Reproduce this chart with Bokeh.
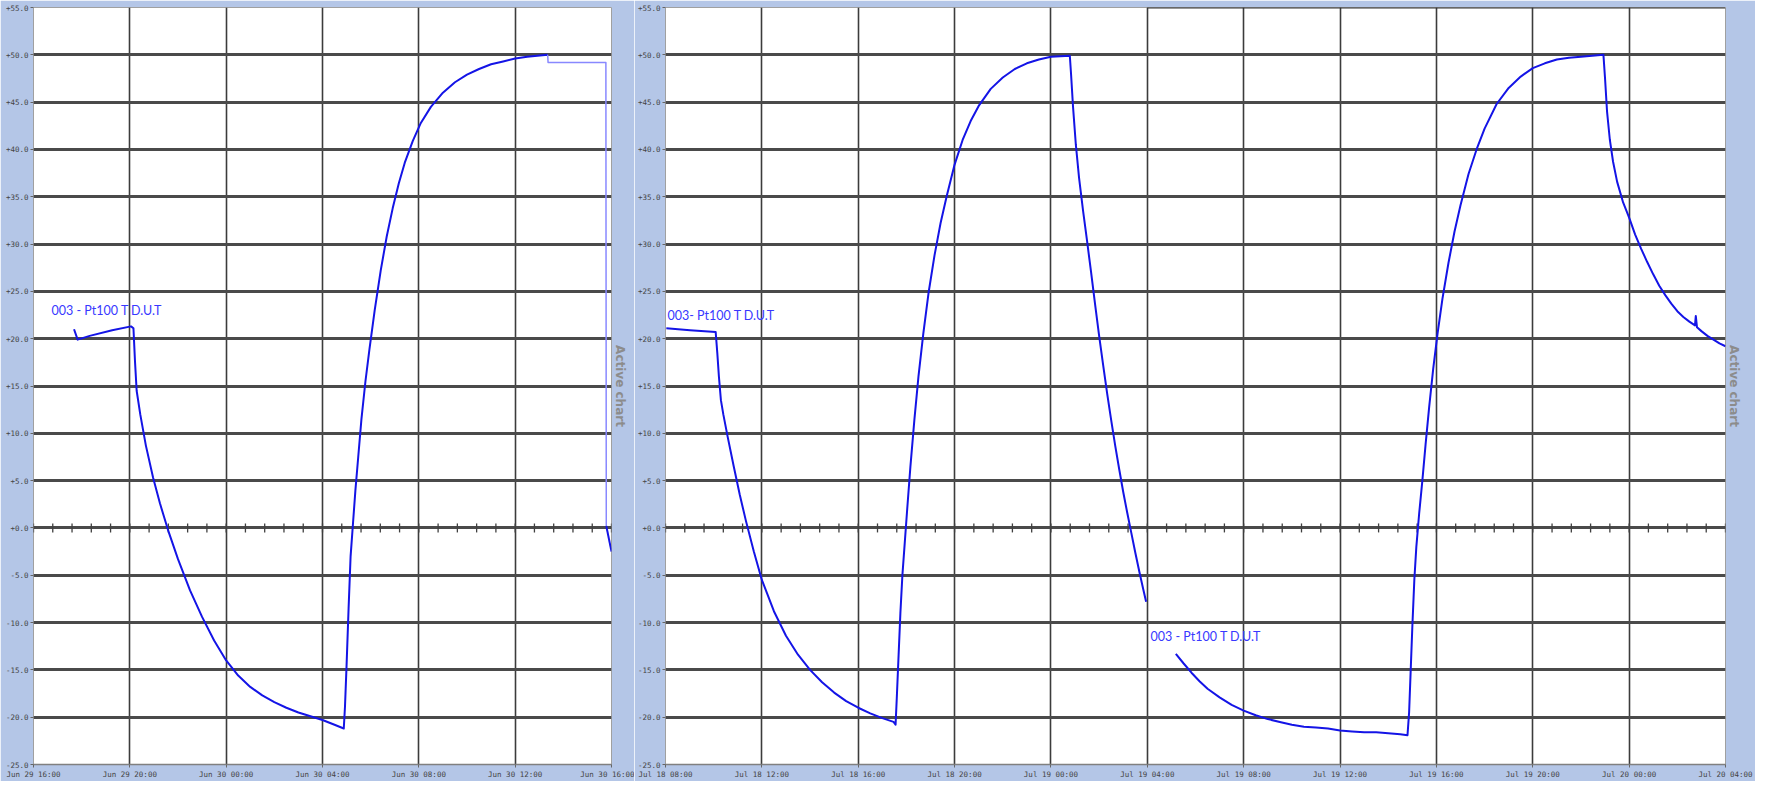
import numpy as np
import pandas as pd
from bokeh.plotting import figure
from bokeh.models import FixedTicker, DatetimeTickFormatter, Label, Title, Range1d
from bokeh.layouts import row
from bokeh.embed import file_html
from bokeh.resources import INLINE

# ---------------- data ----------------
series_name = "003 - Pt100 T D.U.T"
series_name_mid = "003- Pt100 T D.U.T"

# Chart 1 : Jun 29 16:00 -> Jun 30 16:00
run1a_hhmm = ["17:41", "17:50", "18:20", "19:16", "20:03", "20:09", "20:13", "20:17",
              "20:26", "20:40", "20:58", "21:15", "21:35", "22:00", "22:30", "23:00",
              "23:30"]                                        # Jun 29
run1a_temp = [21.0, 19.9, 20.3, 20.9, 21.3, 21.1, 17.5, 14.5,
              12.0, 8.7, 5.3, 2.6, -0.2, -3.3, -6.6, -9.4,
              -11.9]
run1b_hhmm = ["00:00", "00:30", "01:00", "01:30", "02:00", "02:30", "03:00", "03:30",
              "04:00", "04:30", "04:53", "04:56", "05:00", "05:05", "05:10", "05:16",
              "05:22", "05:29", "05:37", "05:47", "05:57", "06:10", "06:25", "06:40",
              "06:55", "07:10", "07:25", "07:45", "08:05", "08:30", "09:00", "09:30",
              "10:00", "10:30", "11:00", "11:30", "12:00", "12:30", "13:21"]   # Jun 30
run1b_temp = [-14.0, -15.6, -16.8, -17.7, -18.4, -19.0, -19.5, -19.9,
              -20.3, -20.8, -21.2, -18.9, -14.5, -8.5, -3.0, 0.5,
              4.0, 7.5, 11.5, 15.5, 18.9, 23.0, 27.2, 30.8,
              33.8, 36.4, 38.6, 40.9, 42.8, 44.5, 46.0, 47.1,
              47.9, 48.5, 49.0, 49.3, 49.6, 49.8, 50.0]
run1_gap_hhmm = ["13:21", "13:22", "15:46", "15:47"]         # Jun 30
run1_gap_temp = [50.0, 49.2, 49.2, 0.2]
run1_tail_hhmm = ["15:47", "16:00"]                          # Jun 30
run1_tail_temp = [0.2, -2.5]

# Chart 2 : first cycle, Jul 18 08:00 -> Jul 19 04:00
run2a_hhmm = ["08:02", "09:01", "10:05", "10:09", "10:13", "10:18", "10:24", "10:35",
              "10:50", "11:05", "11:20", "11:40", "12:00", "12:30", "13:00", "13:30",
              "14:00", "14:30", "15:00", "15:30", "16:00", "16:30", "17:00", "17:28",
              "17:33", "17:36", "17:40", "17:45", "17:50", "17:56", "18:02", "18:10",
              "18:20", "18:30", "18:42", "18:55", "19:10", "19:25", "19:40", "20:00",
              "20:20", "20:40", "21:00", "21:30", "22:00", "22:30", "23:00", "23:30"]  # Jul 18
run2a_temp = [21.1, 20.9, 20.7, 18.5, 16.0, 13.5, 12.0, 9.6,
              6.5, 3.5, 0.8, -2.5, -5.5, -8.8, -11.4, -13.4,
              -15.0, -16.3, -17.4, -18.3, -19.0, -19.6, -20.1, -20.5,
              -20.8, -18.0, -14.0, -9.0, -5.0, -1.5, 2.0, 6.5,
              11.5, 16.0, 20.5, 24.8, 28.8, 32.2, 35.0, 38.4,
              41.0, 43.0, 44.6, 46.4, 47.6, 48.5, 49.1, 49.5]
run2b_hhmm = ["00:00", "00:47", "00:50", "00:55", "01:02", "01:10", "01:20", "01:30",
              "01:40", "01:50", "02:00", "02:10", "02:20", "02:30", "02:40", "02:50",
              "03:00", "03:10", "03:20", "03:30", "03:40", "03:50", "03:57"]  # Jul 19
run2b_temp = [49.8, 49.9, 48.0, 44.5, 40.5, 37.0, 33.5, 30.3,
              27.0, 23.6, 20.3, 17.2, 14.2, 11.4, 8.7, 6.2,
              3.8, 1.6, -0.5, -2.6, -4.6, -6.5, -7.8]

# Chart 2 : second cycle, Jul 19 05:11 -> Jul 20 04:00
run3a_hhmm = ["05:11", "05:30", "05:50", "06:10", "06:30", "07:00", "07:30", "08:00",
              "08:30", "09:00", "09:30", "10:00", "10:30", "11:00", "11:30", "12:00",
              "12:30", "13:00", "13:30", "14:00", "14:30", "14:48", "14:52", "14:56",
              "15:00", "15:05", "15:10", "15:17", "15:25", "15:33", "15:42", "15:52",
              "16:03", "16:15", "16:30", "16:45", "17:00", "17:20", "17:40", "18:00",
              "18:30", "19:00", "19:30", "20:00", "20:30", "21:00", "21:30", "22:00",
              "22:56", "23:00", "23:05", "23:12", "23:20", "23:30", "23:45"]  # Jul 19
run3a_temp = [-13.3, -14.3, -15.3, -16.2, -17.0, -17.9, -18.7, -19.3,
              -19.8, -20.2, -20.5, -20.8, -21.0, -21.1, -21.2, -21.4,
              -21.5, -21.6, -21.6, -21.7, -21.8, -21.9, -19.5, -15.0,
              -10.5, -5.5, -2.0, 1.5, 5.0, 8.8, 12.8, 16.8,
              20.6, 24.2, 28.0, 31.3, 34.1, 37.4, 40.0, 42.2,
              44.8, 46.5, 47.7, 48.6, 49.1, 49.5, 49.7, 49.8,
              50.0, 47.5, 44.0, 41.0, 38.7, 36.6, 34.4]
run3b_hhmm = ["00:00", "00:15", "00:30", "00:45", "01:00", "01:15", "01:30", "01:45",
              "02:00", "02:15", "02:30", "02:44", "02:46", "02:49", "03:00", "03:15",
              "03:30", "03:45", "04:00"]                      # Jul 20
run3b_temp = [32.8, 31.0, 29.5, 28.1, 26.8, 25.6, 24.6, 23.7,
              22.9, 22.3, 21.8, 21.4, 22.4, 21.2, 20.8, 20.3,
              19.9, 19.5, 19.2]

y_ticks = list(range(-25, 56, 5))

# ---------------- style ----------------
STRIP = "#b4c6e7"
LINE = "#1414e6"
LIGHT = "#8888ff"
LABEL_C = "#3838ff"
H = 781
FMT = "%b %d %H:%M"


def ms(t):
    return pd.Timestamp(t).value / 1e6


def stamps(day, hhmm):
    return [ms(f"{day} {h}") for h in hhmm]


def make_fig(width, start, end, left, right):
    p = figure(width=width, height=H, x_axis_type="datetime",
               x_range=Range1d(ms(start), ms(end)), y_range=Range1d(-25, 55),
               output_backend="svg", toolbar_location=None,
               min_border_left=left, min_border_right=right,
               min_border_top=7, min_border_bottom=15)
    p.border_fill_color = STRIP
    p.background_fill_color = "white"
    p.outline_line_color = "#a0a0a0"
    p.outline_line_width = 1

    xt = [ms(t) for t in pd.date_range(start, end, freq="4h")]
    p.xaxis.ticker = FixedTicker(ticks=xt)
    p.xaxis.formatter = DatetimeTickFormatter(
        milliseconds=FMT, seconds=FMT, minsec=FMT, minutes=FMT, hourmin=FMT,
        hours=FMT, days=FMT, months=FMT, years=FMT)
    p.yaxis.ticker = FixedTicker(ticks=y_ticks)
    p.yaxis.major_label_overrides = {v: f"{v:+.1f}" for v in y_ticks}

    for ax in (p.xaxis[0], p.yaxis[0]):
        ax.major_label_text_font = "DejaVu Sans Mono"
        ax.major_label_text_font_size = "7.5px"
        ax.major_label_text_color = "#444444"
        ax.major_tick_in = 0
        ax.major_tick_out = 3
        ax.major_tick_line_color = "#666666"
        ax.minor_tick_line_color = None
        ax.major_label_standoff = 2
    p.yaxis.axis_line_color = None
    p.xaxis.axis_line_color = "#808080"
    p.xaxis.axis_line_width = 1.5

    p.ygrid.grid_line_color = "#4a4a4a"
    p.ygrid.grid_line_width = 2.8
    p.xgrid.grid_line_color = "#3c3c3c"
    p.xgrid.grid_line_width = 1.6

    # small ticks along the zero line
    zt = [ms(t) for t in pd.date_range(start, end, freq="48min")]
    p.scatter(x=zt, y=[0] * len(zt), marker="dash", angle=np.pi / 2, size=9,
              line_color="#404040", line_width=1.3)

    p.add_layout(Title(text="Active chart", align="center", text_font="DejaVu Sans",
                       text_font_size="12px", text_font_style="bold",
                       text_color="#8c8c8c", standoff=3), "right")
    return p


def curve(p, xs, temps, color=LINE, width=2):
    p.line(x=xs, y=temps, line_color=color, line_width=width, line_join="round")


def add_label(p, t, y, text):
    p.add_layout(Label(x=ms(t), y=y, text=text, text_font="Lato",
                       text_font_size="12.5px", text_color=LABEL_C, text_baseline="middle"))


p1 = make_fig(634, "2021-06-29 16:00", "2021-06-30 16:00", 33, 23)
curve(p1, stamps("2021-06-29", run1a_hhmm) + stamps("2021-06-30", run1b_hhmm),
      run1a_temp + run1b_temp)
curve(p1, stamps("2021-06-30", run1_gap_hhmm), run1_gap_temp, color=LIGHT, width=1.5)
curve(p1, stamps("2021-06-30", run1_tail_hhmm), run1_tail_temp)
add_label(p1, "2021-06-29 16:45", 23.0, series_name)

p2 = make_fig(1121, "2021-07-18 08:00", "2021-07-20 04:00", 30, 30)
curve(p2, stamps("2021-07-18", run2a_hhmm) + stamps("2021-07-19", run2b_hhmm),
      run2a_temp + run2b_temp)
curve(p2, stamps("2021-07-19", run3a_hhmm) + stamps("2021-07-20", run3b_hhmm),
      run3a_temp + run3b_temp)
p2.segment(x0=[ms("2021-07-19 04:00")], y0=[55], x1=[ms("2021-07-20 04:00")], y1=[55],
           line_color="#303030", line_width=2)
add_label(p2, "2021-07-18 08:05", 22.5, series_name_mid)
add_label(p2, "2021-07-19 04:08", -11.5, series_name)

layout = row(p1, p2)
open("out.html", "w").write(file_html(layout, INLINE))
